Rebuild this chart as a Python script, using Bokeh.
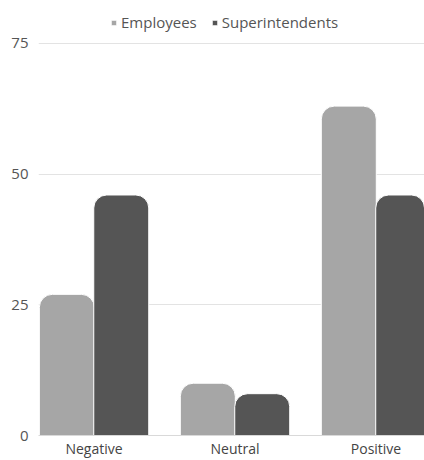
from bokeh.plotting import figure
from bokeh.models import FixedTicker, Legend, LegendItem, ColumnDataSource
from bokeh.embed import file_html
from bokeh.resources import INLINE

categories = ["Negative", "Neutral", "Positive"]
employees = [27, 10, 63]
superintendents = [46, 8, 46]
y_ticks = [0, 25, 50, 75]

FONT = "Open Sans"
xs = list(range(len(categories)))

p = figure(width=424, height=460, output_backend="svg", toolbar_location=None,
           x_range=(-0.394, 2.344), y_range=(0, 83.2),
           min_border_left=38, min_border_right=0, min_border_top=0, min_border_bottom=25)
p.outline_line_color = None
p.background_fill_color = "white"
p.border_fill_color = "white"

src_e = ColumnDataSource(dict(x=[x - 0.193 for x in xs], top=employees))
src_s = ColumnDataSource(dict(x=[x + 0.193 for x in xs], top=superintendents))
r1 = p.vbar(x="x", top="top", bottom=0, width=0.39, source=src_e,
            fill_color="#a6a6a6", line_color="white", line_width=1,
            border_radius=(13, 13, 0, 0))
r2 = p.vbar(x="x", top="top", bottom=0, width=0.39, source=src_s,
            fill_color="#555555", line_color="white", line_width=1,
            border_radius=(13, 13, 0, 0))

p.xgrid.visible = False
p.ygrid.ticker = FixedTicker(ticks=y_ticks[1:])
p.ygrid.grid_line_color = "#e3e3e3"
p.ygrid.grid_line_width = 1

p.yaxis.ticker = FixedTicker(ticks=y_ticks)
p.yaxis.axis_line_color = None
p.yaxis.major_tick_line_color = None
p.yaxis.minor_tick_line_color = None
p.yaxis.major_tick_out = 0
p.yaxis.major_tick_in = 0
p.yaxis.major_label_standoff = 10
p.yaxis.major_label_text_font = FONT
p.yaxis.major_label_text_font_size = "15px"
p.yaxis.major_label_text_color = "#555555"

p.xaxis.ticker = FixedTicker(ticks=xs)
p.xaxis.major_label_overrides = {i: c for i, c in enumerate(categories)}
p.xaxis.axis_line_color = "#d9d9d9"
p.xaxis.major_tick_line_color = None
p.xaxis.minor_tick_line_color = None
p.xaxis.major_tick_out = 0
p.xaxis.major_tick_in = 0
p.xaxis.major_label_standoff = 3
p.xaxis.major_label_text_font = FONT
p.xaxis.major_label_text_font_size = "14px"
p.xaxis.major_label_text_color = "#444444"

legend = Legend(items=[LegendItem(label="Employees", renderers=[r1]),
                       LegendItem(label="Superintendents", renderers=[r2])],
                orientation="horizontal", location=(72, 403),
                glyph_width=7, glyph_height=7, label_text_font=FONT,
                label_text_font_size="15px", label_text_color="#555555",
                background_fill_alpha=0, border_line_color=None,
                spacing=14, padding=6, margin=0, label_standoff=4)
p.add_layout(legend, "center")

open("out.html", "w").write(file_html(p, INLINE))
